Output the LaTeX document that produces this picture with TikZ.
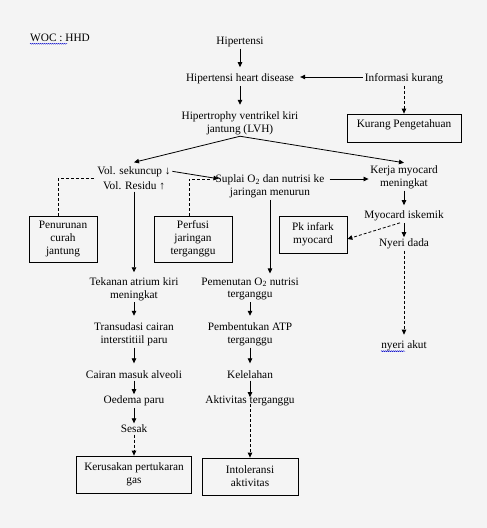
\documentclass[tikz,border=0pt]{standalone}
\usepackage{fontspec}
\setmainfont{Liberation Serif}
\usetikzlibrary{positioning, arrows.meta, decorations.pathmorphing}
\definecolor{page_gray}{RGB}{244,244,244}

\begin{document}
\begin{tikzpicture}
    [
        x=1pt, y=-1pt, on grid, inner sep=1.5pt,
        text_node/.style={align=center, font=\fontsize{11.3}{12.8}\selectfont},
        box_node/.style={text_node, draw=black, line width=0.8pt},
        arrow_line/.style={-{Triangle[length=5pt, width=4.5pt]}, line width=0.8pt, color=black},
        dashed_line/.style={line width=0.8pt, dash pattern=on 3pt off 2pt, color=black},
        dashed_arrow/.style={arrow_line, dash pattern=on 3pt off 2pt},
        spell_line/.style={draw=blue!80!black, line width=0.4pt, decorate, decoration={snake, amplitude=0.5pt, segment length=2pt}},
    ]
        \path[use as bounding box, fill=page_gray] (0,0) rectangle (487,528) ;
        \node[text_node, anchor=west] (woc) at (28.5,38) {WOC : HHD} ;
        \node[text_node] (ht) at (240,42) {Hipertensi} ;
        \node[text_node] (htd) [below = 37pt of ht] {Hipertensi heart disease} ;
        \node[text_node] (info) [right = 164pt of htd] {Informasi kurang} ;
        \node[box_node, minimum width=114pt, minimum height=28pt, text depth=8pt] (kp) [below = 49pt of info] {Kurang Pengetahuan} ;
        \node[text_node] (lvh) [below = 44pt of htd] {Hipertrophy ventrikel kiri\\jantung (LVH)} ;
        \node[text_node] (vol) [below left = 55.5pt and 106pt of lvh] {Vol. sekuncup ↓\\[2pt]Vol. Residu ↑} ;
        \node[text_node] (sup) [below right = 63.5pt and 30pt of lvh] {Suplai O\textsubscript{2} dan nutrisi ke\\jaringan menurun} ;
        \node[text_node] (kerja) [below right = 54.5pt and 164pt of lvh] {Kerja myocard\\meningkat} ;
        \node[box_node, minimum width=68pt, minimum height=46pt] (pen) [below left = 60.5pt and 71pt of vol] {Penurunan\\curah\\jantung} ;
        \node[box_node, minimum width=78pt, minimum height=46pt] (per) [below right = 60.5pt and 59pt of vol] {Perfusi\\jaringan\\terganggu} ;
        \node[text_node] (myo) [below = 38.5pt of kerja] {Myocard iskemik} ;
        \node[text_node] (nye) [below = 28pt of myo] {Nyeri dada} ;
        \node[text_node] (akut) [below = 102pt of nye] {nyeri akut} ;
        \node[box_node, minimum width=68pt, minimum height=37pt] (pk) [below left = 18.5pt and 91pt of myo] {Pk infark\\myocard} ;
        \node[text_node] (tek) [below = 110.5pt of vol] {Tekanan atrium kiri\\meningkat} ;
        \node[text_node] (pem) [below left = 102.5pt and 20pt of sup] {Pemenutan O\textsubscript{2} nutrisi\\terganggu} ;
        \node[text_node] (tra) [below = 45.5pt of tek] {Transudasi cairan\\interstitiil paru} ;
        \node[text_node] (atp) [below = 45.5pt of pem] {Pembentukan ATP\\terganggu} ;
        \node[text_node] (cai) [below = 40.5pt of tra] {Cairan masuk alveoli} ;
        \node[text_node] (kel) [below = 40.5pt of atp] {Kelelahan} ;
        \node[text_node] (oed) [below = 26pt of cai] {Oedema paru} ;
        \node[text_node] (akt) [below = 26pt of kel] {Aktivitas terganggu} ;
        \node[text_node] (ses) [below = 28pt of oed] {Sesak} ;
        \node[box_node, minimum width=115pt, minimum height=37pt] (ker) [below = 45.5pt of ses] {Kerusakan pertukaran\\gas} ;
        \node[box_node, minimum width=96pt, minimum height=37pt] (int) [below = 75.5pt of akt] {Intoleransi\\aktivitas} ;
        \coordinate (sup_top) at ([yshift=7.5pt]sup.east) ;
        % top part
        \draw[arrow_line, shorten >=5pt] (ht) -- (htd) ;
        \draw[arrow_line, shorten >=4.5pt] ([yshift=2pt]info.west) -- ([yshift=2pt]htd.east) ;
        \draw[dashed_arrow] (info) -- (kp) ;
        \draw[arrow_line, shorten >=5pt] (htd) -- (lvh) ;
        \draw[arrow_line] (lvh.south) -- ([yshift=3pt]vol.north) ;
        \draw[arrow_line] (lvh.south) -- ([yshift=1.5pt]kerja.north) ;
        \draw[arrow_line] ([yshift=-6pt]vol.north east) -- ([xshift=4.5pt, yshift=-5.5pt]sup.north west) ;
        \draw[arrow_line] ([xshift=3.5pt]sup_top) -- (sup_top -| kerja.west) ;
        \draw[dashed_line] ([xshift=-5pt]pen.north) |- (vol.west) ;
        \draw[dashed_line] ([xshift=-4pt]per.north) |- ([yshift=7.5pt, xshift=-2pt]sup.west) ;
        % right column
        \draw[arrow_line, shorten >=4pt] (kerja) -- (myo) ;
        \draw[arrow_line] (myo) -- (nye) ;
        \draw[dashed_arrow] ([xshift=-4pt]myo.south) -- ([yshift=-4.5pt]pk.east) ;
        \draw[dashed_arrow, shorten >=4.5pt] (nye) -- (akut) ;
        % left column
        \draw[arrow_line, shorten >=3.5pt] (vol) -- (tek) ;
        \draw[arrow_line, shorten >=5.5pt] (tek) -- (tra) ;
        \draw[arrow_line, shorten >=6pt] (tra) -- (cai) ;
        \draw[arrow_line] (cai) -- (oed) ;
        \draw[arrow_line] (oed) -- (ses) ;
        \draw[dashed_arrow] (ses) -- (ker) ;
        % middle column
        \draw[arrow_line, shorten >=2.5pt] (sup.south) -- (sup.south |- pem.north) ;
        \draw[arrow_line, shorten >=5.5pt] (pem) -- (atp) ;
        \draw[arrow_line, shorten >=6pt] (atp) -- (kel) ;
        \draw[arrow_line, shorten >=-3pt] (kel) -- (akt) ;
        \draw[dashed_arrow] ([yshift=4pt]akt.south) -- (int) ;
        % spelling marks
        \draw[spell_line] ([xshift=1.5pt, yshift=-2pt]woc.base west) -- ++(37,0) ;
        \draw[spell_line] ([xshift=1.5pt, yshift=-2.5pt]akut.base west) -- ++(24,0) ;
    \end{tikzpicture}
\end{document}
